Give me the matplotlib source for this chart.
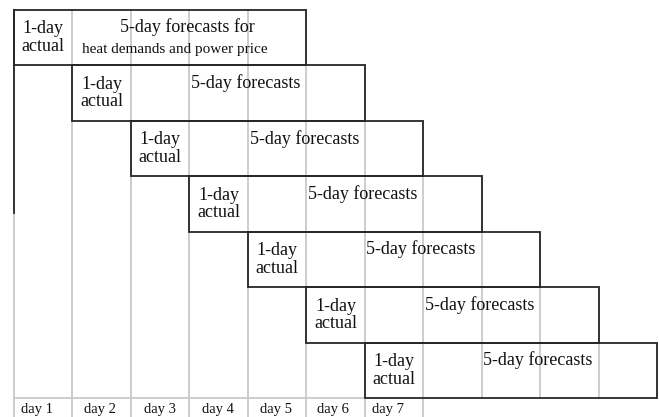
import matplotlib.pyplot as plt
from matplotlib.patches import Rectangle

# rolling horizon: each window = 1-day actual + forecast days
days = ['day 1', 'day 2', 'day 3', 'day 4', 'day 5', 'day 6', 'day 7']
window_start = [0, 1, 2, 3, 4, 5, 6]   # column where each window starts
window_cols = 5                          # columns covered by one window
n_cols = 11
actual_label = '1-day\nactual'
forecast_label = '5-day forecasts'
first_label = ['5-day forecasts for', 'heat demands and power price']

plt.rcParams['font.family'] = ['Liberation Serif', 'DejaVu Serif']

# pixel geometry of the original drawing
W, H = 58.45, 55.43      # column width, row height (px)
x0, y0 = 14, 10          # left / top of the grid (px)
fig = plt.figure(figsize=(6.59, 4.17), dpi=100)
ax = fig.add_axes([0, 0, 1, 1])
ax.set_xlim(-x0 / W, (659 - x0) / W)
ax.set_ylim((417 - y0) / H, -y0 / H)
ax.axis('off')

grey = '#c9c9c9'
dark = '#262626'
n_rows = len(window_start)
bottom_lbl = (417 - y0) / H

# grey day grid lines
for k in range(n_cols + 1):
    top = max(0, k - (window_cols))
    bot = bottom_lbl if k <= n_rows else n_rows
    ax.plot([k, k], [top, bot], color=grey, lw=1.3, zorder=1)
ax.plot([0, n_rows - 1], [n_rows, n_rows], color=grey, lw=1.3, zorder=1)
# darker left edge piece as in the original
ax.plot([0, 0], [0, (213 - y0) / H], color=dark, lw=1.3, zorder=2)

for r, s in enumerate(window_start):
    ax.add_patch(Rectangle((s, r), window_cols, 1, fill=False,
                           edgecolor=dark, lw=1.3, zorder=3))
    ax.text(s + 0.5, r + 0.5, actual_label, ha='center', va='center',
            fontsize=13, linespacing=1.05, color='#111111', zorder=4)
    xc = s + 1 + (window_cols - 1) / 2 - 2 / W
    if r == 0:
        ax.text(xc, r + 0.5 - 11 / H, first_label[0], ha='center', va='center',
                fontsize=13, color='#111111', zorder=4)
        ax.text(xc - 13 / W, r + 0.5 + 12 / H, first_label[1], ha='center',
                va='center', fontsize=11, color='#111111', zorder=4)
    else:
        ax.text(xc, r + 0.5 - 10 / H, forecast_label, ha='center', va='center',
                fontsize=13, color='#111111', zorder=4)

# day labels under the grid
offsets = [-6.5, -1.5, -0.5, -0.5, -1, -3, -6]
for i, d in enumerate(days):
    ax.text(i + 0.5 + offsets[i] / W, (409 - y0) / H, d, ha='center',
            va='center', fontsize=10.5, color='#111111')

fig.savefig('out.png', dpi=100)
